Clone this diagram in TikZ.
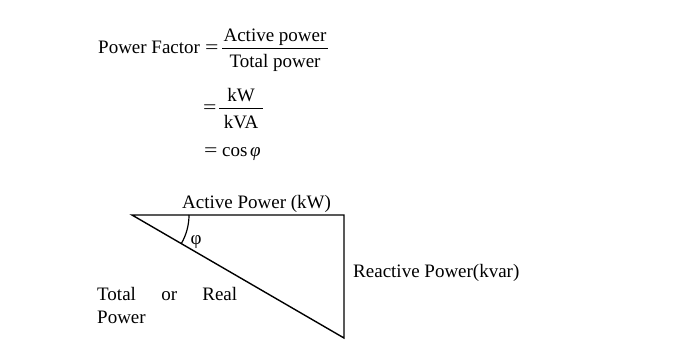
\documentclass[tikz,border=0pt]{standalone}
\usepackage{graphicx}
\usepackage{fontspec}
\setmainfont{Liberation Serif}
\newcommand{\wideeq}{\scalebox{1.25}[1]{=}}
\begin{document}
\begin{tikzpicture}[x=1pt,y=1pt,
  txt/.style={inner sep=0pt,font=\fontsize{19}{22.2}\selectfont},
  lbl/.style={txt,anchor=base west},
  ctr/.style={txt,anchor=base},
  bar/.style={line width=0.9pt},
  edge/.style={line width=1.4pt}]
\useasboundingbox (0,0) rectangle (690,-357);
% formula
\node[lbl] (pf) at (98,-53) {Power Factor};
\node[lbl] (eq1) at (205,-53) {\wideeq};
\node[ctr] (num1) at (275,-41) {Active power};
\node[ctr] (den1) at (275,-67) {Total power};
\coordinate (b1l) at (222,-48); \coordinate (b1r) at (328,-48);
\draw[bar] (b1l) -- (b1r);
\node[lbl] (eq2) at (203,-113) {\wideeq};
\node[ctr] (num2) at (241,-101) {kW};
\node[ctr] (den2) at (241,-128) {kVA};
\coordinate (b2l) at (219,-108); \coordinate (b2r) at (263,-108);
\draw[bar] (b2l) -- (b2r);
\node[lbl] (eq3) at (204,-156) {\wideeq};
\node[lbl] (cos) at (222,-156) {cos};
\node[lbl] (cphi) at (250,-156) {\itshape φ};
% triangle
\coordinate (A) at (132,-215);
\coordinate (B) at (344,-215);
\coordinate (C) at (344,-338);
\draw[edge,line join=miter] (A) -- (B) -- (C) -- cycle;
\coordinate (arcS) at (189,-215);
\draw[line width=1.2pt] (arcS) arc[start angle=0,end angle=-30.1,radius=57];
\node[txt] (phi) at (196,-242) {φ};
\node[lbl] (act) at (182,-208) {Active Power (kW)};
\node[lbl] (rea) at (353,-277) {Reactive Power(kvar)};
\node[txt,anchor=north west,text width=140pt,align=justify] (tot) at (97,-287.5) {Total or Real Power};
\end{tikzpicture}
\end{document}
